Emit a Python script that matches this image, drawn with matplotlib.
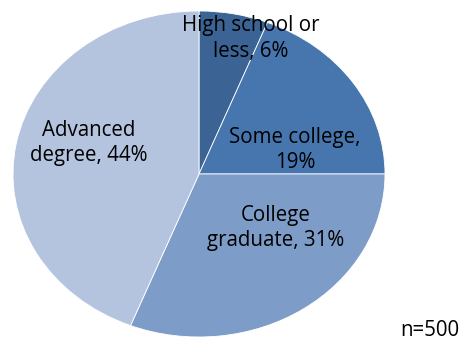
import matplotlib
matplotlib.use("Agg")
import matplotlib.pyplot as plt

categories = ["High school or less", "Some college", "College graduate", "Advanced degree"]
values = [6, 19, 31, 44]
label_texts = ["High school or\nless, 6%", "Some college,\n19%", "College\ngraduate, 31%", "Advanced\ndegree, 44%"]
colors = ["#3B6495", "#4776AF", "#7E9CC8", "#B4C4DF"]
label_pos = [(0.28, 0.83), (0.516, 0.147), (0.414, -0.331), (-0.591, 0.19)]

plt.rcParams['font.family'] = ['Open Sans', 'DejaVu Sans']
fig = plt.figure(figsize=(4.65, 3.42), dpi=100)
W, H = 465, 342
cx, cy, rx, ry = 199, 174, 186, 163
ax = fig.add_axes([(cx - rx) / W, (H - cy - ry) / H, 2 * rx / W, 2 * ry / H])
ax.pie(values, labels=None, colors=colors, startangle=90, counterclock=False,
       wedgeprops=dict(edgecolor="white", linewidth=0.6))
ax.set_aspect('auto')
ax.set_xlim(-1, 1)
ax.set_ylim(-1, 1)
ax.axis('off')

for txt, (x, y) in zip(label_texts, label_pos):
    ax.text(x, y, txt, ha='center', va='center', fontsize=14.8, color='black',
            linespacing=1.3)

fig.text(430 / W, 1 - 330 / H, "n=500", ha='center', va='center', fontsize=14.8)
fig.savefig("out.png", dpi=100)
